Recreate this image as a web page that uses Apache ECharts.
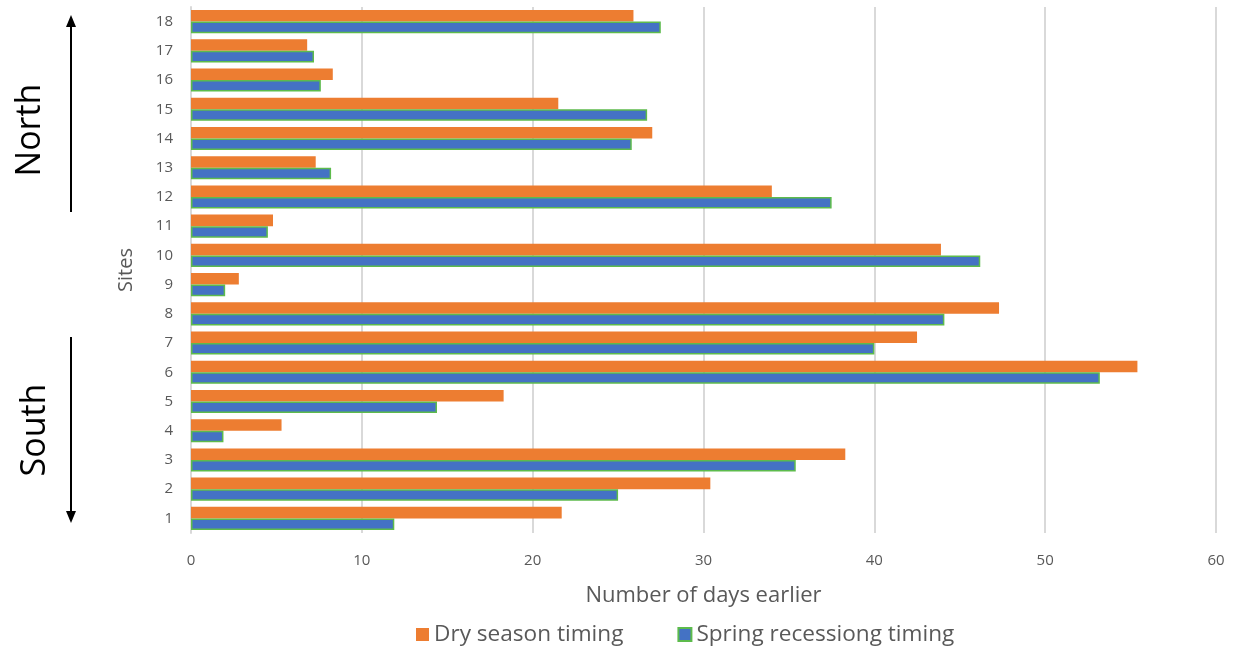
<!DOCTYPE html>
<html>
<head>
<meta charset="utf-8">
<script src="https://cdn.jsdelivr.net/npm/echarts@6/dist/echarts.min.js"></script>
<style>
html,body{margin:0;padding:0;background:#fff;}
#chart{width:1237px;height:652px;}
</style>
</head>
<body>
<div id="chart"></div>
<script>
const sites = ['1','2','3','4','5','6','7','8','9','10','11','12','13','14','15','16','17','18'];
const drySeason = [21.7, 30.4, 38.3, 5.3, 18.3, 55.4, 42.5, 47.3, 2.8, 43.9, 4.8, 34.0, 7.3, 27.0, 21.5, 8.3, 6.8, 25.9];
const springRecession = [11.9, 25.0, 35.4, 1.9, 14.4, 53.2, 40.0, 44.1, 2.0, 46.2, 4.5, 37.5, 8.2, 25.8, 26.7, 7.6, 7.2, 27.5];
const xTicks = [0, 10, 20, 30, 40, 50, 60];

const FONT = '"Open Sans", "Liberation Sans", sans-serif';
const chart = echarts.init(document.getElementById('chart'));
chart.setOption({
  animation: false,
  backgroundColor: '#fff',
  grid: { left: 191, right: 21, top: 7, bottom: 119, containLabel: false },
  legend: {
    bottom: 1,
    left: 411,
    itemWidth: 13,
    itemHeight: 13,
    itemGap: 54,
    icon: 'rect',
    textStyle: { fontFamily: FONT, fontSize: 22.6, color: '#595959' },
    data: ['Dry season timing', 'Spring recessiong timing']
  },
  xAxis: {
    type: 'value',
    min: xTicks[0],
    max: xTicks[xTicks.length - 1],
    interval: 10,
    name: 'Number of days earlier',
    nameLocation: 'middle',
    nameGap: 52,
    nameTextStyle: { fontFamily: FONT, fontSize: 22, color: '#595959' },
    axisLine: { show: false },
    axisTick: { show: false },
    axisLabel: { fontFamily: FONT, fontSize: 15, color: '#595959', margin: 20 },
    splitLine: { lineStyle: { color: '#d9d9d9', width: 2 } }
  },
  yAxis: {
    type: 'category',
    data: sites,
    name: 'Sites',
    nameLocation: 'middle',
    nameGap: 55,
    nameTextStyle: { fontFamily: FONT, fontSize: 20, color: '#595959' },
    axisLine: { show: true, lineStyle: { color: '#d9d9d9', width: 2 } },
    axisTick: { show: false },
    axisLabel: { fontFamily: FONT, fontSize: 15, color: '#595959', margin: 18 }
  },
  series: [
    {
      name: 'Dry season timing',
      type: 'bar',
      data: drySeason,
      barGap: '0%',
      barCategoryGap: '21%',
      itemStyle: { color: '#ED7D31' }
    },
    {
      name: 'Spring recessiong timing',
      type: 'bar',
      data: springRecession,
      barGap: '0%',
      barCategoryGap: '21%',
      itemStyle: { color: '#4472C4', borderColor: '#5DBB4C', borderWidth: 1.5 }
    }
  ],
  graphic: [
    { type: 'text', rotation: Math.PI / 2, x: 30, y: 130,
      style: { text: 'North', fontFamily: FONT, fontSize: 34, fill: '#000', textAlign: 'center', textVerticalAlign: 'middle' } },
    { type: 'text', rotation: Math.PI / 2, x: 35, y: 430,
      style: { text: 'South', fontFamily: FONT, fontSize: 34, fill: '#000', textAlign: 'center', textVerticalAlign: 'middle' } },
    { type: 'line', shape: { x1: 71, y1: 26, x2: 71, y2: 212 }, style: { stroke: '#000', lineWidth: 2 } },
    { type: 'polygon', shape: { points: [[66, 27], [76, 27], [71, 15]] }, style: { fill: '#000' } },
    { type: 'line', shape: { x1: 71, y1: 337, x2: 71, y2: 512 }, style: { stroke: '#000', lineWidth: 2 } },
    { type: 'polygon', shape: { points: [[66, 511], [76, 511], [71, 523]] }, style: { fill: '#000' } }
  ]
});
</script>
</body>
</html>
